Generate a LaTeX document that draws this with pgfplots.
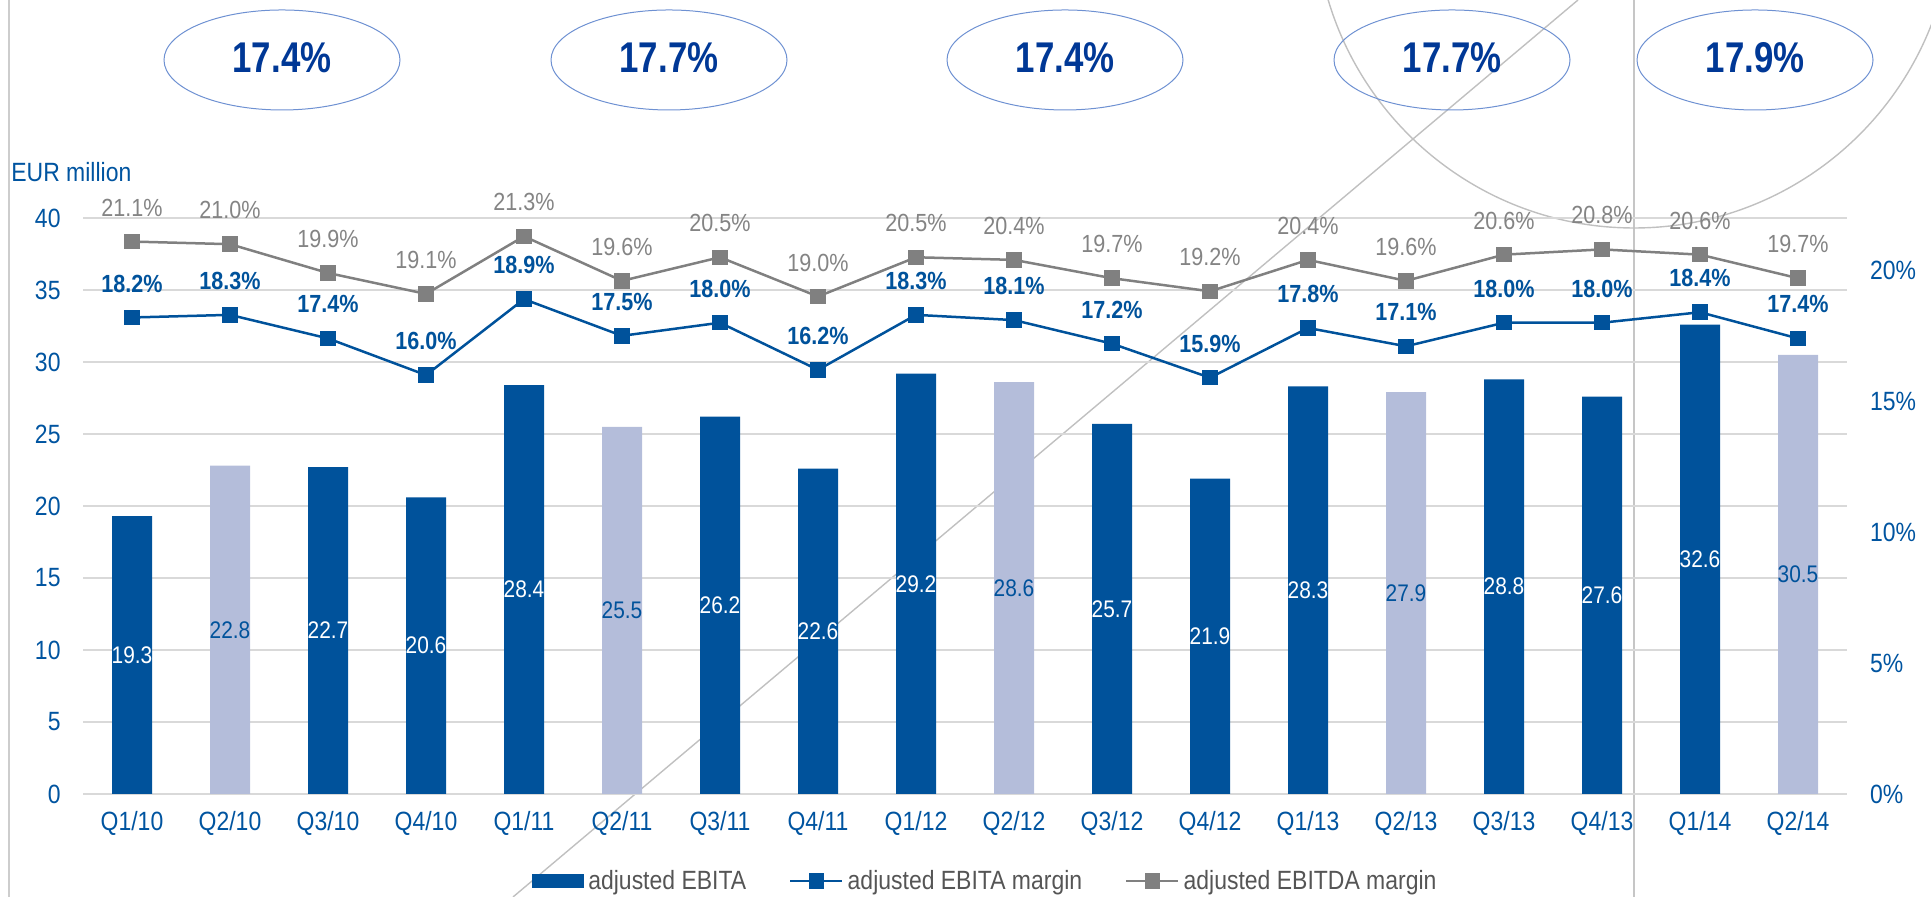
\documentclass[border=0pt]{standalone}
\usepackage{fontspec}
\setmainfont{Liberation Sans}[FakeStretch=0.87]
\newfontfamily\ellfont{Liberation Sans}[FakeStretch=0.81]
\usepackage{pgfplots}
\usepackage{pgfplotstable}
\pgfplotsset{compat=1.18}
\pgfplotsset{/pgf/number format/assume math mode=true}

\definecolor{barblue}{RGB}{0,82,155}
\definecolor{barlight}{RGB}{180,189,218}
\definecolor{lineblue}{RGB}{0,82,155}
\definecolor{linegray}{RGB}{128,128,128}
\definecolor{labelgray}{RGB}{132,132,132}
\definecolor{tickblue}{RGB}{0,84,160}
\definecolor{elltext}{RGB}{0,56,150}
\definecolor{ellborder}{RGB}{110,145,210}
\definecolor{gridgray}{RGB}{217,217,217}
\definecolor{decgray}{RGB}{192,192,192}
\definecolor{legendgray}{RGB}{85,85,85}

\newcommand\tickfont{\fontsize{13.2}{15}\selectfont}
\newcommand\lblfont{\fontsize{12.4}{14}\selectfont}
\newcommand\barfont{\fontsize{12}{14}\selectfont}

\pgfplotstableread{
x y
0 19.3
2 22.7
3 20.6
4 28.4
6 26.2
7 22.6
8 29.2
10 25.7
11 21.9
12 28.3
14 28.8
15 27.6
16 32.6
}\darkbars
\pgfplotstableread{
x y
1 22.8
5 25.5
9 28.6
13 27.9
17 30.5
}\lightbars
\pgfplotstableread{
x ebitam ebitdam
0 18.2 21.1
1 18.3 21.0
2 17.4 19.9
3 16.0 19.1
4 18.9 21.3
5 17.5 19.6
6 18.0 20.5
7 16.2 19.0
8 18.3 20.5
9 18.1 20.4
10 17.2 19.7
11 15.9 19.2
12 17.8 20.4
13 17.1 19.6
14 18.0 20.6
15 18.0 20.8
16 18.4 20.6
17 17.4 19.7
}\margins

\begin{document}
\begin{tikzpicture}
% slide decorations
\draw[decgray!80, line width=0.6pt] (4.5pt,0pt) -- (4.5pt,448.5pt);
\draw[decgray, line width=0.7pt] (256.5pt,0pt) -- (789pt,448.5pt);
\draw[decgray!90, line width=1pt] (817pt,0pt) -- (817pt,448.5pt);
\begin{scope}
\clip (0pt,0pt) rectangle (965.5pt,448.5pt);
\draw[decgray, line width=0.7pt] (817pt,494pt) circle (159.5pt);
\end{scope}
% ellipses
\foreach \cx/\txt in {141/17.4, 334.5/17.7, 532.5/17.4, 726/17.7, 877.5/17.9}{
  \draw[ellborder, line width=0.5pt] (\cx pt,418.5pt) ellipse [x radius=59pt, y radius=25pt];
  \node[text=elltext, font=\ellfont\bfseries\fontsize{21.5}{24}\selectfont] at (\cx pt,419.5pt) {\txt\%};
}
\node[anchor=west, inner sep=0pt, text=tickblue, font=\tickfont] at (5.5pt,362.5pt) {EUR million};

\begin{axis}[
  at={(41.5pt,51.5pt)}, anchor=south west, scale only axis,
  width=882pt, height=288pt,
  xmin=-0.5, xmax=17.5, ymin=0, ymax=40,
  xtick={0,...,17},
  xticklabels={Q1/10,Q2/10,Q3/10,Q4/10,Q1/11,Q2/11,Q3/11,Q4/11,Q1/12,Q2/12,Q3/12,Q4/12,Q1/13,Q2/13,Q3/13,Q4/13,Q1/14,Q2/14},
  ytick={0,5,...,40},
  axis line style={draw=none}, major tick length=0pt,
  ymajorgrids, grid style={draw=gridgray, line width=0.9pt},
  tick label style={font=\tickfont, text=tickblue},
  yticklabel style={xshift=-7.7pt},
  xticklabel style={yshift=-5pt},
  clip=false,
  legend image code/.code={\draw[mark repeat=2,mark phase=2,#1] plot coordinates {(0pt,0pt) (13pt,0pt) (26pt,0pt)};},
  legend columns=3,
  legend style={at={(0.2545,-0.151)}, anchor=west, draw=none, fill=none,
    inner sep=0pt, font=\tickfont, text=legendgray,
    nodes={inner sep=2pt},
    /tikz/every even column/.append style={column sep=19.5pt}},
]
\addplot[ybar, bar width=20pt, bar shift=0pt, fill=barblue, draw=none,
  legend image code/.code={\fill[barblue] (0pt,-3.5pt) rectangle (26pt,3.5pt);}]
  table[x=x, y=y] {\darkbars};
\addlegendentry{adjusted EBITA}
\addplot[ybar, bar width=20pt, bar shift=0pt, fill=barlight, draw=none, forget plot]
  table[x=x, y=y] {\lightbars};
\addplot[draw=none, mark=none, forget plot, point meta=explicit,
  nodes near coords={\pgfmathprintnumber[fixed,fixed zerofill,precision=1]{\pgfplotspointmeta}},
  every node near coord/.append style={anchor=center, font=\barfont, text=white}]
  table[x=x, y expr=\thisrow{y}/2, meta=y] {\darkbars};
\addplot[draw=none, mark=none, forget plot, point meta=explicit,
  nodes near coords={\pgfmathprintnumber[fixed,fixed zerofill,precision=1]{\pgfplotspointmeta}},
  every node near coord/.append style={anchor=center, font=\barfont, text=lineblue}]
  table[x=x, y expr=\thisrow{y}/2, meta=y] {\lightbars};
\addlegendimage{lineblue, line width=1.25pt, mark=square*, mark size=3.25pt}
\addlegendentry{adjusted EBITA margin}
\addlegendimage{linegray, line width=1.25pt, mark=square*, mark size=3.25pt}
\addlegendentry{adjusted EBITDA margin}
\end{axis}

\begin{axis}[
  at={(41.5pt,51.5pt)}, anchor=south west, scale only axis,
  width=882pt, height=288pt,
  xmin=-0.5, xmax=17.5, ymin=0, ymax=22,
  hide x axis, axis line style={draw=none}, major tick length=0pt,
  ytick={0,5,10,15,20}, yticklabel pos=right,
  yticklabel={\pgfmathprintnumber{\tick}\%},
  yticklabel style={font=\tickfont, text=tickblue, xshift=8pt},
  clip=false,
]
\addplot[linegray, line width=1.25pt, mark=square*, mark size=3.25pt,
  point meta=explicit,
  nodes near coords={\pgfmathprintnumber[fixed,fixed zerofill,precision=1]{\pgfplotspointmeta}\%},
  every node near coord/.append style={anchor=center, yshift=17pt, font=\lblfont, text=labelgray}]
  table[x=x, y=ebitdam, meta=ebitdam] {\margins};
\addplot[lineblue, line width=1.25pt, mark=square*, mark size=3.25pt,
  point meta=explicit,
  nodes near coords={\pgfmathprintnumber[fixed,fixed zerofill,precision=1]{\pgfplotspointmeta}\%},
  every node near coord/.append style={anchor=center, yshift=17pt, font=\lblfont\bfseries, text=lineblue}]
  table[x=x, y=ebitam, meta=ebitam] {\margins};
\end{axis}
\pgfresetboundingbox
\useasboundingbox (0pt,0pt) rectangle (965.5pt,448.5pt);
\end{tikzpicture}
\end{document}
